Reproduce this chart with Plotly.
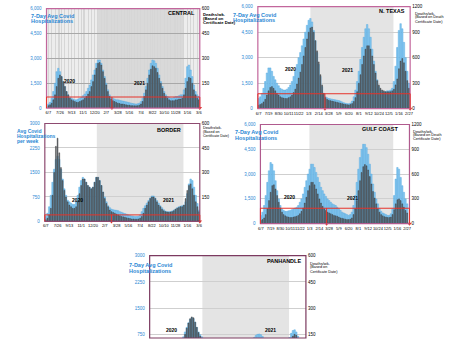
import pandas as pd
import plotly.graph_objects as go

W, H = 454, 341
DAY = 86400000
START = "2020-06-07"

# ---------------- data (weekly, starting 2020-06-07) ----------------
central_hosp = [250,350,600,1000,1500,2200,2400,2200,1900,1600,
                1300,1000,800,650,600,550,500,500,550,600,
                650,750,850,1000,1200,1400,1700,2000,2300,2700,
                2900,2900,2700,2300,1900,1500,1100,800,650,600,
                550,500,500,480,450,430,400,380,350,330,
                300,280,260,250,260,300,400,600,900,1300,
                1800,2300,2700,2900,2850,2700,2400,2000,1600,1300,
                1000,800,700,650,600,600,650,700,700,750,
                800,800,1100,1800,2500,2600,2300,1900,1400,1000,
                800,700]
central_deaths = [15,20,30,50,80,130,180,200,190,160,
                  130,100,80,60,50,45,40,35,35,40,
                  45,50,60,70,85,100,130,160,200,240,
                  270,275,260,220,180,140,100,70,55,45,
                  40,35,30,28,25,25,22,20,18,18,
                  15,15,14,14,15,18,25,40,70,110,
                  150,200,235,255,250,240,215,180,150,120,
                  90,70,60,50,45,45,45,50,50,55,
                  55,60,80,120,160,185,180,150,110,80,
                  60,50]

ntx_hosp = [600,700,900,1200,1600,2100,2400,2400,2200,1900,
            1700,1500,1350,1200,1150,1100,1100,1150,1250,1400,
            1600,1900,2200,2600,3000,3300,3700,4100,4500,4900,
            5200,5300,5100,4600,4000,3300,2600,1900,1300,900,
            700,650,600,580,560,540,520,500,480,450,
            400,350,320,300,290,330,450,700,1100,1600,
            2200,2900,3600,4200,4700,4950,4700,4200,3500,2800,
            2200,1700,1300,1100,1000,980,1000,1050,1050,1100,
            1200,1600,2500,3600,4600,5000,4700,3900,3000,2200,
            1500]
ntx_deaths = [40,50,60,80,110,160,210,250,260,240,
              210,180,160,140,130,125,120,120,130,140,
              160,190,230,290,360,430,520,620,720,820,
              900,950,960,900,800,680,550,400,280,180,
              130,110,100,95,90,85,80,75,70,65,
              60,55,50,48,45,50,60,85,130,200,
              300,400,520,620,700,740,740,700,620,520,
              420,330,280,240,220,210,200,200,200,200,
              210,230,280,350,470,560,590,540,440,330,
              240]

border_hosp = [150,250,450,800,1200,1600,1900,2000,1900,1600,
               1300,1000,800,650,600,560,520,520,600,800,
               1050,1250,1350,1300,1200,1100,1050,1000,1050,1200,
               1350,1350,1250,1100,900,750,600,480,420,380,
               360,350,340,330,300,280,260,240,220,200,
               180,170,160,150,150,160,200,300,400,480,
               560,640,720,780,780,720,640,560,480,420,
               360,320,300,300,300,320,350,380,420,450,
               470,480,500,600,850,1150,1300,1250,1050,800,
               550,350]
border_deaths = [10,20,40,80,160,300,460,510,420,330,
                 250,190,150,120,100,90,80,80,90,120,
                 170,220,260,260,240,220,210,200,210,240,
                 270,270,250,220,180,140,110,90,70,60,
                 55,50,45,40,35,30,28,25,22,20,
                 18,15,15,14,14,15,20,30,50,80,
                 100,120,140,150,150,140,120,100,90,75,
                 65,60,58,56,58,60,65,75,80,85,
                 90,90,100,140,190,220,230,200,160,120,
                 90,60]

gulf_hosp = [500,700,1100,1700,2500,3200,3700,3600,3200,2600,
             2000,1500,1100,900,800,750,750,780,800,850,
             900,950,1000,1100,1300,1500,1800,2200,2600,3000,
             3300,3600,3600,3400,3100,2800,2500,2200,2000,1800,
             1650,1500,1400,1300,1200,1150,1100,1000,900,800,
             700,650,600,550,500,550,700,1100,1700,2500,
             3300,4000,4500,4800,4800,4600,4200,3600,3000,2400,
             1900,1500,1200,900,750,650,600,550,500,500,
             600,900,1700,2700,3400,3300,2800,2300,1900,1500,
             1200]
gulf_deaths = [40,50,70,110,180,280,380,460,470,420,
               340,260,190,140,110,95,85,80,75,75,
               80,85,90,100,120,150,190,250,320,400,
               460,500,500,470,420,360,300,250,210,180,
               160,140,130,120,110,100,95,90,80,70,
               65,60,55,50,50,55,70,110,180,280,
               400,520,620,690,715,700,650,570,480,390,
               310,240,180,140,110,95,85,80,75,75,
               80,110,170,240,290,300,280,240,200,160,
               130]

pan_hosp = [100,120,150,200,260,320,380,420,420,400,
            380,360,350,350,360,380,420,480,560,680,
            820,950,1080,1180,1230,1200,1100,950,820,740,
            680,620,560,480,400,330,270,220,190,170,
            160,150,140,130,120,110,100,95,90,85,
            80,80,80,90,110,150,200,280,380,480,
            580,660,720,750,760,740,690,620,560,500,
            450,420,400,390,390,400,420,440,460,480,
            500,560,660,780,860,880,820,700,560,440,
            340,260]
pan_deaths = [5,6,8,10,14,18,24,30,34,36,
              36,36,38,40,45,50,60,75,95,120,
              150,185,215,240,250,245,220,190,160,140,
              125,115,105,90,75,60,48,40,34,30,
              28,26,24,22,20,18,16,15,14,13,
              12,12,12,13,15,20,26,35,48,62,
              78,95,110,120,125,125,118,105,95,85,
              78,72,68,65,64,64,66,70,72,75,
              78,85,100,120,140,150,145,125,100,80,
              62,50]

region_names = ["CENTRAL", "N. TEXAS", "BORDER", "GULF COAST", "PANHANDLE"]
hosp_ticks_6000 = [0, 1500, 3000, 4500, 6000]
hosp_text_6000 = ["0", "1,500", "3,000", "4,500", "6,000"]
hosp_ticks_3000 = [750, 1500, 2250, 3000]
hosp_text_3000 = ["750", "1500", "2250", "3000"]
death_ticks_600 = [150, 300, 450, 600]
death_ticks_1200 = [0, 300, 600, 900, 1200]
thresholds = [670, 880, 200, 935, None]
mask_dates = ["2021-03-03", "2021-03-12", "2021-03-07", "2021-03-17", None]

# ---------------- layout helpers ----------------
def fx(p):
    return p / W

def fy(p):
    return 1 - p / H

BLUE_TXT = "#2a88d4"
FRAME = "#c2669c"
FONT = "Liberation Sans, Arial, sans-serif"

panels = [
    dict(hosp=central_hosp, deaths=central_deaths, yr=[0, 6000], y2r=[0, 600],
         yt=[0, 1500, 3000, 4500, 6000], ytt=hosp_text_6000, y2t=death_ticks_600,
         dt=7, xd=(45, 200), yd=(6.7, 107.7), xr=("2020-05-30", "2022-03-10"),
         shade=("2021-01-03", "2021-12-31"), grid="#a8a8a8", frame=FRAME, xlab=True),
    dict(hosp=ntx_hosp, deaths=ntx_deaths, yr=[0, 6000], y2r=[0, 1200],
         yt=hosp_ticks_6000, ytt=hosp_text_6000, y2t=death_ticks_1200,
         dt=6, xd=(258.7, 412.7), yd=(4.7, 108.3), xr=("2020-06-04", "2022-03-04"),
         shade=("2021-01-10", "2021-12-24"), grid="#cfcfcf", frame=FRAME, xlab=True),
    dict(hosp=border_hosp, deaths=border_deaths, yr=[0, 3000], y2r=[0, 600],
         yt=[0, 750, 1500, 2250, 3000], ytt=["0", "750", "1500", "2250", "3000"],
         y2t=death_ticks_600,
         dt=7, xd=(43.3, 200), yd=(123.3, 222.7), xr=("2020-06-03", "2022-03-09"),
         shade=("2021-01-05", "2021-12-31"), grid="#cfcfcf", frame="#8e4a70", xlab=True),
    dict(hosp=gulf_hosp, deaths=gulf_deaths, yr=[0, 6000], y2r=[0, 1200],
         yt=hosp_ticks_6000, ytt=hosp_text_6000, y2t=death_ticks_1200,
         dt=6, xd=(261.3, 412), yd=(124.3, 225), xr=("2020-06-05", "2022-03-09"),
         shade=("2021-01-02", "2021-12-29"), grid="#cfcfcf", frame="#b05a8e", xlab=True),
    dict(hosp=pan_hosp, deaths=pan_deaths, yr=[646, 3000], y2r=[129.2, 600],
         yt=hosp_ticks_3000, ytt=hosp_text_3000, y2t=death_ticks_600,
         dt=7, xd=(149.3, 307.3), yd=(257.5, 341), xr=("2020-05-31", "2022-03-11"),
         shade=("2021-01-05", "2021-12-31"), grid="#cfcfcf", frame="#7c3a60", xlab=False),
]

fig = go.Figure()
layout = dict(width=W, height=H, margin=dict(l=0, r=0, t=0, b=0),
              paper_bgcolor="white", plot_bgcolor="rgba(0,0,0,0)",
              showlegend=False, barmode="overlay",
              font=dict(family=FONT, size=5, color="black"))
shapes = []
annotations = []

for k, p in enumerate(panels):
    xi = k + 1
    yl = 2 * k + 1
    yr_ = 2 * k + 2
    xname = "x" if xi == 1 else f"x{xi}"
    ylname = "y" if yl == 1 else f"y{yl}"
    yrname = f"y{yr_}"
    dates = pd.date_range(START, periods=len(p["hosp"]), freq="7D")

    fig.add_trace(go.Bar(x=dates, y=p["hosp"], xaxis=xname, yaxis=ylname,
                         width=6.2 * DAY,
                         marker=dict(color="#86c8f0", line=dict(color="#4aa2de", width=0.4))))
    fig.add_trace(go.Bar(x=dates, y=p["deaths"], xaxis=xname, yaxis=yrname,
                         width=3.6 * DAY,
                         marker=dict(color="#6b7076", line=dict(color="#2b2b2b", width=0.4))))

    xa = dict(domain=[fx(p["xd"][0]), fx(p["xd"][1])], anchor=ylname, type="date",
              range=list(p["xr"]), tick0=START, dtick=p["dt"] * 7 * DAY,
              tickformat="%-m/%-d", tickangle=0, ticks="", showline=False,
              zeroline=False, tickfont=dict(size=4, color="black"),
              ticklabelstandoff=1, showgrid=False, showticklabels=p["xlab"])
    if k == 0:
        xa.update(showgrid=True, gridcolor="#d6d6d6", gridwidth=0.5,
                  minor=dict(dtick=14 * DAY, tick0=START, showgrid=True,
                             gridcolor="#d6d6d6", gridwidth=0.5))
    layout["xaxis" if xi == 1 else f"xaxis{xi}"] = xa

    layout["yaxis" if yl == 1 else f"yaxis{yl}"] = dict(
        domain=[fy(p["yd"][1]), fy(p["yd"][0])], anchor=xname, range=p["yr"],
        tickvals=p["yt"], ticktext=p["ytt"], ticks="", showline=False, zeroline=False,
        showgrid=True, gridcolor=p["grid"], gridwidth=0.6,
        tickfont=dict(size=4.5, color=BLUE_TXT), ticklabelstandoff=4)
    layout[f"yaxis{yr_}"] = dict(
        overlaying=ylname, side="right", anchor=xname, range=p["y2r"],
        tickvals=p["y2t"], ticks="", showline=False, zeroline=False, showgrid=False,
        tickfont=dict(size=4.5, color="black"), ticklabelstandoff=1)

    # backgrounds
    if k == 0:
        shapes.append(dict(type="rect", xref=f"{xname} domain", yref=f"{ylname} domain",
                           x0=0, x1=1, y0=0, y1=1, fillcolor="#ededed",
                           line=dict(width=0), layer="below"))
        shade_col = "#d9d9d9"
    else:
        shade_col = "#e4e4e4"
    shapes.append(dict(type="rect", xref=xname, yref=f"{ylname} domain",
                       x0=p["shade"][0], x1=p["shade"][1], y0=0, y1=1,
                       fillcolor=shade_col, line=dict(width=0), layer="below"))
    # frame
    shapes.append(dict(type="rect", xref=f"{xname} domain", yref=f"{ylname} domain",
                       x0=0, x1=1, y0=0, y1=1, line=dict(color=p["frame"], width=1.2),
                       layer="above"))
    # red threshold box and markers
    thr = thresholds[k]
    md = mask_dates[k]
    if thr is not None:
        red = "#e5332a"
        shapes.append(dict(type="line", xref=f"{xname} domain", yref=ylname,
                           x0=0, x1=1, y0=thr, y1=thr, line=dict(color=red, width=1),
                           layer="above"))
        for xd_ in (0, 1):
            shapes.append(dict(type="line", xref=f"{xname} domain", yref=ylname,
                               x0=xd_, x1=xd_, y0=0, y1=thr,
                               line=dict(color=red, width=1), layer="above"))
        shapes.append(dict(type="line", xref=xname, yref=ylname,
                           x0=md, x1=md, y0=0, y1=thr,
                           line=dict(color=red, width=1), layer="above"))
        fig.add_trace(go.Scatter(x=[md, p["xr"][1]], y=[0, 0], xaxis=xname, yaxis=ylname,
                                 mode="markers", cliponaxis=False, hoverinfo="skip",
                                 marker=dict(symbol="triangle-down", size=4, color=red)))

def txt(x, y, s, size=5, color="black", bold=True, anchor="left"):
    annotations.append(dict(xref="paper", yref="paper", x=fx(x), y=fy(y),
                            text=f"<b>{s}</b>" if bold else s, showarrow=False,
                            xanchor=anchor, yanchor="middle",
                            font=dict(size=size, color=color, family=FONT)))

# Central
txt(27, 14, "7-Day Avg Covid", 5.5, BLUE_TXT)
txt(27, 19.3, "Hospitalizations", 5.5, BLUE_TXT)
txt(201, 12.3, "Deaths/wk.", 4.2)
txt(201, 16.7, "(Based on", 4.2)
txt(201, 21, "Certificate Date)", 4.2)
txt(197, 10.7, region_names[0], 5.5, anchor="right")
txt(68, 80, "2020", 5, anchor="center")
txt(139.3, 81.7, "2021", 5, anchor="center")
# N. Texas
txt(232, 13.3, "7-Day Avg Covid", 5.5, BLUE_TXT)
txt(232, 18.7, "Hospitalizations", 5.5, BLUE_TXT)
txt(415.3, 11.7, "Deaths/wk.", 4, bold=False)
txt(415.3, 15.7, "(Based on Death", 3.8, bold=False)
txt(415.3, 20, "Certificate Date)", 3.8, bold=False)
txt(409.7, 9, region_names[1], 5.5, anchor="right")
txt(292, 68.3, "2020", 5, anchor="center")
txt(349.7, 69.3, "2021", 5, anchor="center")
# Border
txt(13.3, 131, "Avg Covid", 5, BLUE_TXT)
txt(13.3, 136, "Hospitalizations", 5, BLUE_TXT)
txt(13.3, 141.3, "per week", 5, BLUE_TXT)
txt(201.5, 127.5, "Deaths/wk.", 3.8, bold=False)
txt(201.5, 131.5, "(Based on", 3.6, bold=False)
txt(201.5, 135.5, "Certificate Date)", 3.6, bold=False)
txt(183.3, 130, region_names[2], 5.5, anchor="right")
txt(76, 201, "2020", 5, anchor="center")
txt(168.3, 201, "2021", 5, anchor="center")
# Gulf Coast
txt(233.7, 132.3, "7-Day Avg Covid", 5.5, BLUE_TXT)
txt(233.7, 138.3, "Hospitalizations", 5.5, BLUE_TXT)
txt(413.7, 131, "Deaths/wk.", 4, bold=False)
txt(413.7, 135, "(Based on Death", 3.8, bold=False)
txt(413.7, 139, "Certificate Date)", 3.8, bold=False)
txt(402, 129, region_names[3], 5.5, anchor="right")
txt(290.3, 197.7, "2020", 5, anchor="center")
txt(354.7, 199, "2021", 5, anchor="center")
# Panhandle
txt(126.7, 267.3, "7-Day Avg Covid", 5.5, BLUE_TXT)
txt(126.7, 272.7, "Hospitalizations", 5.5, BLUE_TXT)
txt(309.3, 265, "Deaths/wk.", 4, bold=False)
txt(309.3, 269.3, "(Based on", 3.8, bold=False)
txt(309.3, 274, "Certificate Date)", 3.8, bold=False)
txt(304, 262.7, region_names[4], 5.5, anchor="right")
txt(171.7, 332.7, "2020", 5, anchor="center")
txt(271.7, 333.3, "2021", 5, anchor="center")

layout["shapes"] = shapes
layout["annotations"] = annotations
fig.update_layout(**layout)
fig.write_html("out.html")
